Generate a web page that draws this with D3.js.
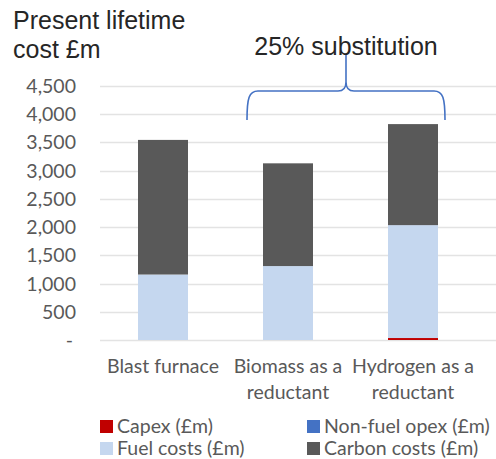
<!DOCTYPE html>
<head>
<meta charset="utf-8">
<style>
body { margin: 0; background: #fff; }
.tick-label, .cat-label, .legend text {
  fill: #595959;
  font-family: Lato, "Open Sans", sans-serif;
  font-size: 19.5px;
}
.tick-label { font-size: 19.5px; }
.title, .note {
  fill: #262626;
  font-family: "Liberation Sans", Arial, sans-serif;
  font-size: 25px;
}
</style>
</head>
<body>
<script src="https://d3js.org/d3.v7.min.js"></script>
<script>

var categories = ["Blast furnace", "Biomass as a\nreductant", "Hydrogen as a\nreductant"];
var capex       = [0, 0, 35];
var nonFuelOpex = [0, 0, 0];
var fuelCosts   = [1160, 1310, 2000];
var carbonCosts = [2385, 1820, 1790];
var yTicks = [0, 500, 1000, 1500, 2000, 2500, 3000, 3500, 4000, 4500];

var seriesNames  = ["Capex (£m)", "Non-fuel opex (£m)", "Fuel costs (£m)", "Carbon costs (£m)"];
var seriesColors = ["#c00000", "#4472c4", "#c5d7ef", "#595959"];

var width = 496, height = 459;

var svg = d3.select("body").append("svg")
    .attr("width", width)
    .attr("height", height);

// build rows for the stack
var rows = categories.map(function(c, i) {
  return {cat: c, s0: capex[i], s1: nonFuelOpex[i], s2: fuelCosts[i], s3: carbonCosts[i]};
});
var stack = d3.stack().keys(["s0", "s1", "s2", "s3"])(rows);

var x = d3.scaleBand()
    .domain(categories)
    .range([100.5, 475.5])
    .paddingInner(0.6)
    .paddingOuter(0.3);

var y = d3.scaleLinear()
    .domain([0, 4500])
    .range([340, 86]);

// gridlines
svg.append("g")
  .selectAll("line")
  .data(yTicks)
  .enter().append("line")
    .attr("x1", 100)
    .attr("x2", 496)
    .attr("y1", function(d) { return Math.round(y(d)) + 0.5; })
    .attr("y2", function(d) { return Math.round(y(d)) + 0.5; })
    .style("stroke", "#e3e3e3")
    .style("stroke-width", 1.5);

// y tick labels
svg.append("g")
  .selectAll("text")
  .data(yTicks)
  .enter().append("text")
    .attr("class", "tick-label")
    .attr("x", function(d) { return d == 0 ? 73 : 76; })
    .attr("y", function(d) { return y(d); })
    .attr("dy", "0.36em")
    .attr("text-anchor", "end")
    .text(function(d) { return d == 0 ? "-" : d3.format(",")(d); });

// bars
svg.append("g")
  .selectAll("g")
  .data(stack)
  .enter().append("g")
    .style("fill", function(d, i) { return seriesColors[i]; })
  .selectAll("rect")
  .data(function(d) { return d; })
  .enter().append("rect")
    .attr("x", function(d) { return x(d.data.cat); })
    .attr("width", x.bandwidth())
    .attr("y", function(d) { return y(d[1]); })
    .attr("height", function(d) { return y(d[0]) - y(d[1]); });

// category labels
var cat = svg.append("g")
  .selectAll("text")
  .data(categories)
  .enter().append("text")
    .attr("class", "cat-label")
    .attr("text-anchor", "middle")
    .attr("y", 373);
cat.selectAll("tspan")
  .data(function(d) { return d.split("\n").map(function(t) { return {t: t, c: d}; }); })
  .enter().append("tspan")
    .attr("x", function(d) { return x(d.c) + x.bandwidth() / 2; })
    .attr("dy", function(d, i) { return i == 0 ? 0 : 26; })
    .text(function(d) { return d.t; });

// title
svg.append("text").attr("class", "title").attr("x", 13).attr("y", 29).text("Present lifetime");
svg.append("text").attr("class", "title").attr("x", 13).attr("y", 58).text("cost £m");

// brace over the two substitution bars
var bx0 = x(categories[1]) - 16, bx1 = x(categories[2]) + x.bandwidth() + 7;
var bm = (bx0 + bx1) / 2, by = 91;
svg.append("path")
    .attr("d", "M" + bx0 + ",120 C" + bx0 + ",98 " + (bx0 + 2) + "," + by + " " + (bx0 + 11) + "," + by +
               " L" + (bm - 8) + "," + by + " C" + (bm - 2) + "," + by + " " + bm + "," + (by - 3) + " " + bm + "," + (by - 9) +
               " L" + bm + ",54 M" + bm + "," + (by - 9) + " C" + bm + "," + (by - 3) + " " + (bm + 2) + "," + by + " " + (bm + 8) + "," + by +
               " L" + (bx1 - 11) + "," + by + " C" + (bx1 - 2) + "," + by + " " + bx1 + ",98 " + bx1 + ",120")
    .style("fill", "none")
    .style("stroke", "#4472c4")
    .style("stroke-width", 1.6);

svg.append("text").attr("class", "note")
    .attr("x", bm).attr("y", 55)
    .attr("text-anchor", "middle")
    .text("25% substitution");

// legend
var legendPos = [[100, 426], [307, 426], [100, 448], [307, 448]];
var leg = svg.append("g").attr("class", "legend")
  .selectAll("g")
  .data(seriesNames)
  .enter().append("g")
    .attr("transform", function(d, i) { return "translate(" + legendPos[i][0] + "," + legendPos[i][1] + ")"; });
leg.append("rect")
    .attr("x", 0).attr("y", -6)
    .attr("width", 13).attr("height", 13)
    .style("fill", function(d, i) { return seriesColors[i]; });
leg.append("text")
    .attr("x", 17)
    .attr("dy", "0.36em")
    .text(function(d) { return d; });

</script>
</body>
</html>
